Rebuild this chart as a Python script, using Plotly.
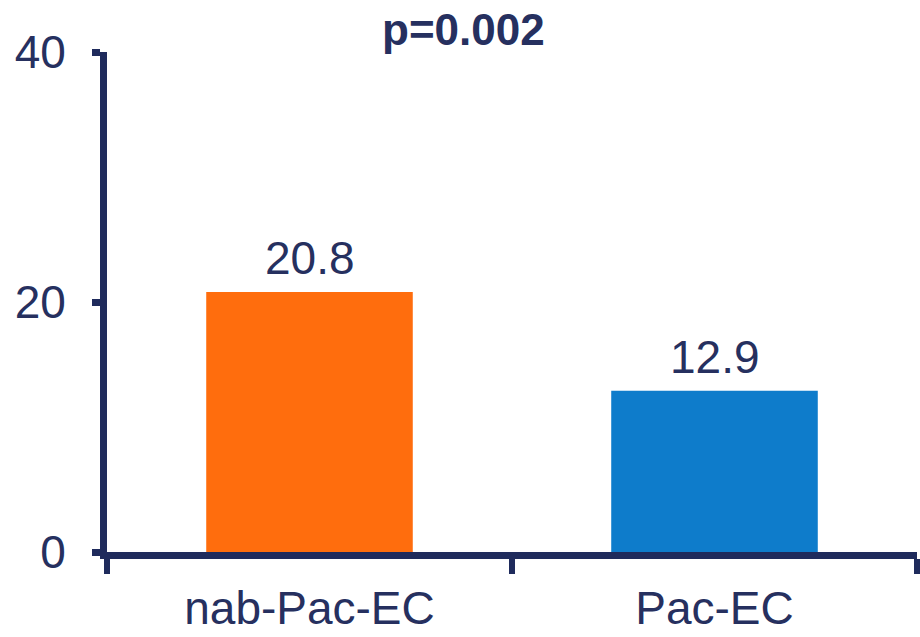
import plotly.graph_objects as go

# Data
categories = ["nab-Pac-EC", "Pac-EC"]
values = [20.8, 12.9]
bar_colors = ["#FF6D0D", "#0E7CCB"]
y_ticks = [0, 20, 40]
p_label = "p=0.002"

NAVY = "#1F2B5C"
TEXT = "#26305F"
FONT = "Arial, Liberation Sans, sans-serif"

fig = go.Figure()
fig.add_trace(go.Bar(
    x=categories,
    y=values,
    marker=dict(color=bar_colors, line=dict(width=0)),
    width=0.51,
    showlegend=False,
))

# value labels above each bar
for cat, val in zip(categories, values):
    fig.add_annotation(
        x=cat, y=val, text=f"{val:.1f}",
        xref="x", yref="y",
        showarrow=False, yanchor="bottom", yshift=6,
        font=dict(family=FONT, size=46, color=TEXT),
    )

# significance label
fig.add_annotation(
    x=0.44, y=1.0, xref="paper", yref="paper",
    text=f"<b>{p_label}</b>", showarrow=False,
    yanchor="bottom", yshift=-4,
    font=dict(family=FONT, size=44, color=TEXT),
)

fig.update_layout(
    width=920, height=637,
    margin=dict(l=107, r=3, t=52, b=85),
    paper_bgcolor="white", plot_bgcolor="white",
    bargap=0.49,
)
fig.update_xaxes(
    showline=True, linewidth=7, linecolor=NAVY,
    ticks="outside", tickson="boundaries", ticklen=15, tickwidth=6, tickcolor=NAVY,
    showgrid=False, zeroline=False, automargin=False,
    tickfont=dict(family=FONT, size=46, color=TEXT),
    ticklabelstandoff=10,
)
fig.update_yaxes(
    range=[0, 40], tickvals=y_ticks,
    showline=True, linewidth=7, linecolor=NAVY,
    ticks="outside", ticklen=8, tickwidth=7, tickcolor=NAVY,
    showgrid=False, zeroline=False, automargin=False,
    tickfont=dict(family=FONT, size=46, color=TEXT),
    ticklabelstandoff=17,
)

fig.write_html("out.html")
